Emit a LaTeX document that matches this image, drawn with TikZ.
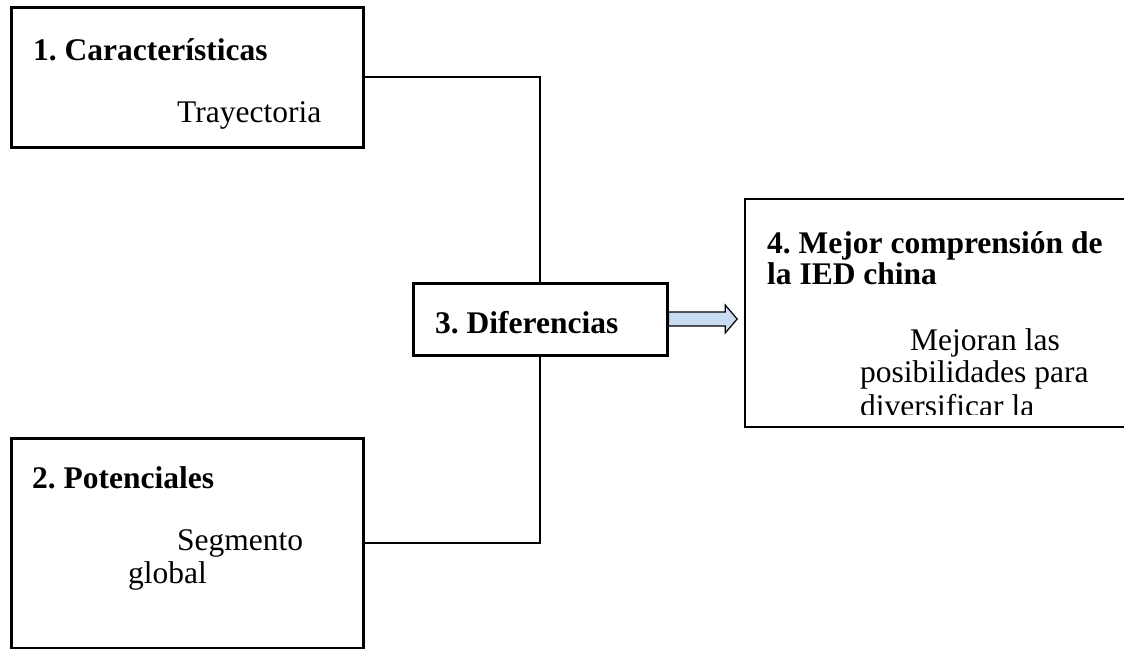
\documentclass[tikz,border=0pt]{standalone}
\usepackage{fontspec}
\setmainfont{Liberation Serif}
\usetikzlibrary{calc}
\definecolor{arrowblue}{HTML}{C9DCF1}
\frenchspacing
\begin{document}
\begin{tikzpicture}[x=1pt,y=-1pt,
  bigbox/.style={draw, line width=3pt, rectangle, inner sep=0pt},
  thinbox/.style={draw, line width=1.6pt, rectangle, inner sep=0pt},
  conn/.style={line width=2pt},
  arrowshape/.style={line width=1.2pt, fill=arrowblue, line join=miter},
  lbl/.style={anchor=base west, inner sep=0pt, font=\fontsize{31.5}{36}\selectfont\frenchspacing},
  blbl/.style={anchor=base west, inner sep=0pt, font=\fontsize{31.5}{36}\selectfont\bfseries\frenchspacing},
  ]
\useasboundingbox (0,0) rectangle (1124,648);
\clip (0,0) rectangle (1124,648);

% boxes
\node[bigbox, minimum width=352pt, minimum height=140pt] (b1) at (187,77) {};
\node[bigbox, minimum width=352pt, minimum height=210pt] (b2) at (187,543) {};
\node[bigbox, minimum width=254pt, minimum height=72pt] (b3) at (540,319) {};
\node[thinbox, minimum width=385pt, minimum height=228pt] (b4) at (937.5,313) {};

% connectors
\draw[conn] (b1.east) -| (b3.north);
\draw[conn] (b2.east) -| (b3.south);

% block arrow from box 3 to box 4
\coordinate (a0) at (b3.east);
\coordinate (tip) at ($(b4.west |- a0)+(-7,0)$);
\draw[arrowshape] ($(a0)+(0,-7)$) -- ($(tip)+(-12,-7)$) -- ($(tip)+(-12,-14)$)
  -- (tip) -- ($(tip)+(-12,14)$) -- ($(tip)+(-12,7)$) -- ($(a0)+(0,7)$) -- cycle;

% texts
\node[blbl] (t1) at (33,60) {1. Características};
\node[lbl] (t1b) at (177,122) {Trayectoria};
\node[blbl] (t2) at (32,488) {2. Potenciales};
\node[lbl] (t2b) at (177,550) {Segmento};
\node[lbl] (t2c) at (128,583) {global};
\node[blbl] (t3) at (435,333) {3. Diferencias};
\node[blbl] (t4) at (767,253) {4. Mejor comprensión de};
\node[blbl] (t4b) at (767,284) {la IED china};
\node[lbl] (t4c) at (910,350) {Mejoran las};
\node[lbl] (t4d) at (860,382) {posibilidades para};
\begin{scope}
  \clip (745,199) rectangle (1124,414);
  \node[lbl] (t4e) at (860,416) {diversificar la};
\end{scope}
\end{tikzpicture}
\end{document}
